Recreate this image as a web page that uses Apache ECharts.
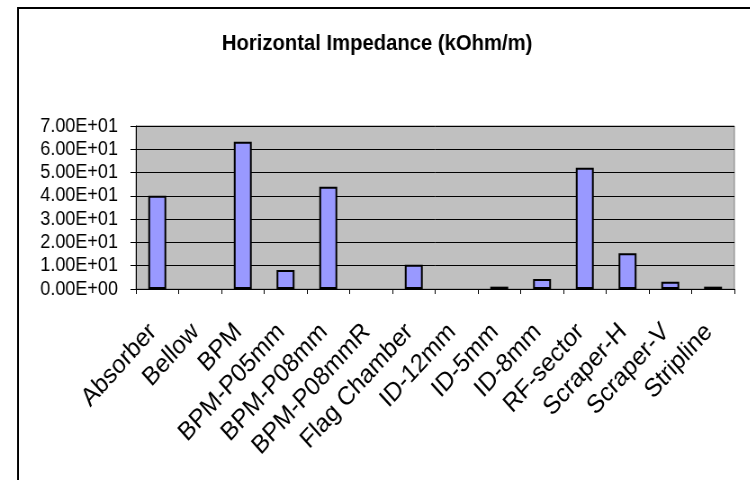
<!DOCTYPE html>
<html>
<head>
<meta charset="utf-8">
<script src="https://cdn.jsdelivr.net/npm/echarts@6/dist/echarts.min.js"></script>
<style>
  html, body { margin: 0; padding: 0; background: #fff; overflow: hidden; width: 750px; height: 480px; }
  /* the chart is laid out on a wider canvas and squeezed horizontally */
  #chart { width: 834px; height: 480px; transform: scaleX(0.9); transform-origin: 0 0; }
</style>
</head>
<body>
<div id="chart"></div>
<script>
// Horizontal impedance per component type (kOhm/m)
const categories = [
  'Absorber', 'Bellow', 'BPM', 'BPM-P05mm', 'BPM-P08mm', 'BPM-P08mmR',
  'Flag Chamber', 'ID-12mm', 'ID-5mm', 'ID-8mm', 'RF-sector',
  'Scraper-H', 'Scraper-V', 'Stripline'
];
const impedance = [40, 0, 63.2, 8.2, 43.9, 0, 10.4, 0, 1.0, 4.3, 52.1, 15.3, 3.1, 1.0];
const yMin = 0;
const yMax = 70;
const yStep = 10;

// Excel-style scientific notation: 7.00E+01
function sci(v) {
  if (v === 0) return '0.00E+00';
  const e = Math.floor(Math.log10(Math.abs(v)));
  const m = v / Math.pow(10, e);
  const sign = e < 0 ? '-' : '+';
  const ea = Math.abs(e);
  return m.toFixed(2) + 'E' + sign + (ea < 10 ? '0' + ea : String(ea));
}

// zero-height bars get no outline so nothing is drawn on the axis
const barData = impedance.map(v => (v === 0 ? { value: v, itemStyle: { borderWidth: 0 } } : v));

const FONT = '"Liberation Sans", Arial, sans-serif';
const chart = echarts.init(document.getElementById('chart'), null, { renderer: 'canvas' });

chart.setOption({
  animation: false,
  backgroundColor: '#ffffff',
  title: {
    text: 'Horizontal Impedance (kOhm/m)',
    left: 414,
    top: 27,
    textAlign: 'center',
    textStyle: { fontFamily: FONT, fontSize: 22.5, fontWeight: 'bold', color: '#000' }
  },
  graphic: [{
    type: 'rect',
    shape: { x: 20, y: 8, width: 900, height: 600 },
    style: { fill: 'none', stroke: '#000', lineWidth: 2 },
    silent: true,
    z: 100
  }],
  grid: {
    left: 151, right: 18, top: 126, bottom: 191,
    show: true,
    backgroundColor: '#c0c0c0',
    borderColor: '#808080',
    borderWidth: 1
  },
  xAxis: {
    type: 'category',
    data: categories,
    boundaryGap: true,
    axisLine: { show: true, lineStyle: { color: '#000', width: 1 } },
    axisTick: { show: true, alignWithLabel: false, length: 5, lineStyle: { color: '#000' } },
    axisLabel: {
      interval: 0,
      rotate: 45,
      margin: 34,
      padding: [0, 7, 0, 0],
      fontFamily: FONT,
      fontSize: 26,
      color: '#000'
    }
  },
  yAxis: {
    type: 'value',
    min: yMin,
    max: yMax,
    interval: yStep,
    axisLine: { show: true, lineStyle: { color: '#000', width: 1 } },
    axisTick: { show: true, length: 6, lineStyle: { color: '#000' } },
    splitLine: { show: true, lineStyle: { color: '#000', width: 1 } },
    axisLabel: {
      margin: 20,
      fontFamily: FONT,
      fontSize: 20,
      color: '#000',
      formatter: sci
    }
  },
  series: [{
    type: 'bar',
    data: barData,
    barWidth: '42%',
    itemStyle: { color: '#9999ff', borderColor: '#000', borderWidth: 2 }
  }]
});
</script>
</body>
</html>
